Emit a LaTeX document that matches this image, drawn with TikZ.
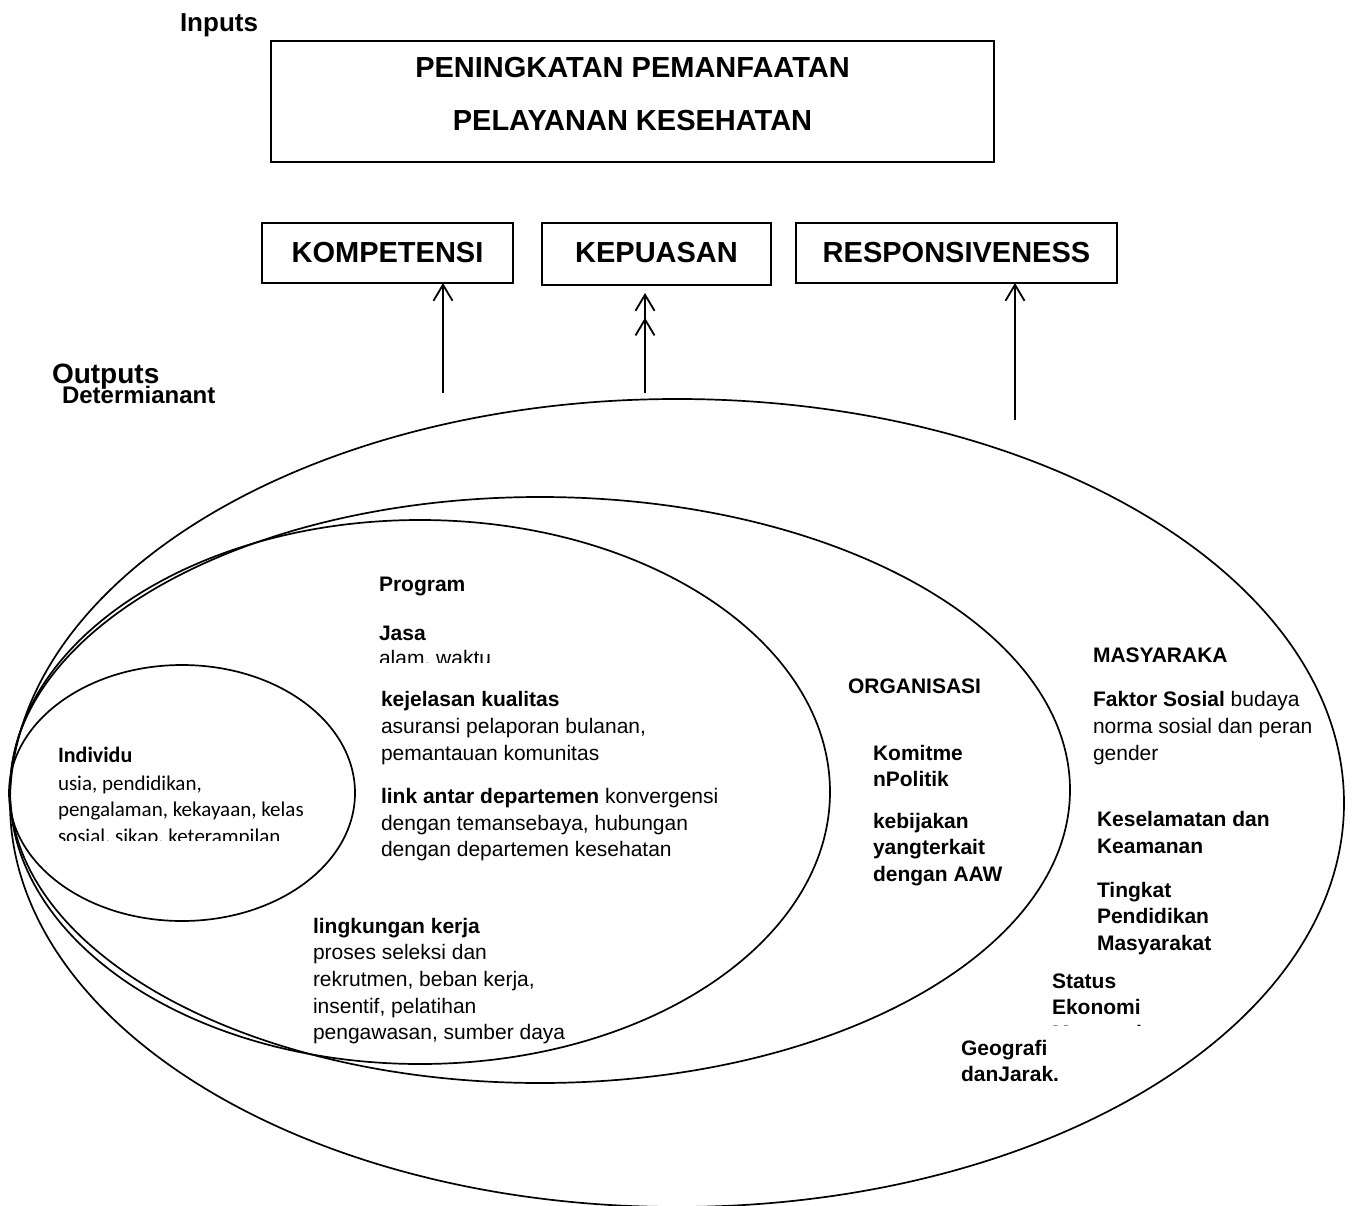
\documentclass[tikz,border=0pt]{standalone}
\usepackage{fontspec}
\setmainfont{Liberation Sans}
\newfontfamily\calfont{Carlito}
\usetikzlibrary{arrows.meta,shapes.geometric}
\begin{document}
\begin{tikzpicture}[x=1pt,y=-1pt,
  every node/.style={inner sep=0pt, outer sep=0pt},
  tx/.style={anchor=base west, align=left, font=\fontsize{21}{26.7}\selectfont},
  txb/.style={anchor=base west, align=left, font=\bfseries\fontsize{21}{26.7}\selectfont},
  cal/.style={anchor=base west, align=left, font=\calfont\fontsize{21}{26.7}\selectfont},
  box/.style={draw, line width=2.6pt},
  boxtext/.style={anchor=base, font=\bfseries\fontsize{29}{35}\selectfont},
  ring/.style={draw, ellipse, line width=1.7pt},
  arr/.style={line width=1.8pt, -{Straight Barb[length=16pt,width=19pt]}},
  arrtwo/.style={line width=1.8pt, -{Straight Barb[length=16pt,width=19pt,sep=6pt]Straight Barb[length=16pt,width=19pt]}}]
\useasboundingbox (0,0) rectangle (1357,1206);

% boxes
\node[box, minimum width=723pt, minimum height=121pt] (top) at (632.5,101.5) {};
\node[boxtext] (t1) at (632.5,78) {PENINGKATAN PEMANFAATAN};
\node[boxtext] (t2) at (632.5,131) {PELAYANAN KESEHATAN};
\node[anchor=base west, font=\bfseries\fontsize{26}{30}\selectfont] (inputs) at (180,31.7) {Inputs};

\node[box, minimum width=251pt, minimum height=60pt] (komp) at (387.5,253) {};
\node[boxtext] (kompt) at (387.5,262.5) {KOMPETENSI};
\node[box, minimum width=229pt, minimum height=62pt] (kep) at (656.5,254) {};
\node[boxtext] (kept) at (656.5,262.5) {KEPUASAN};
\node[box, minimum width=321pt, minimum height=60pt] (resp) at (956.5,253) {};
\node[boxtext] (respt) at (956.5,262.5) {RESPONSIVENESS};

% arrows
\coordinate (a1) at (443,393);
\coordinate (a2) at (645,393);
\coordinate (a3) at (1015,420);
\coordinate (k2) at (a2 |- kep.south);
\draw[arr] (a1) -- (a1 |- komp.south);
\draw[arrtwo] (a2) -- ([yshift=-8pt]k2);
\draw[arr] (a3) -- (a3 |- resp.south);

\node[anchor=base west, font=\bfseries\fontsize{28}{30}\selectfont] (outp) at (52,383) {Outputs};
\node[anchor=base west, font=\bfseries\fontsize{24}{28}\selectfont] (det) at (62,403) {Determianant};

% ellipses
\node[ring, minimum width=1334pt, minimum height=808pt] (outer) at (677,803) {};
\node[ring, minimum width=1060pt, minimum height=586pt] (org) at (540,790) {};
\node[ring, minimum width=820pt, minimum height=544pt] (prg) at (420,792) {};
\node[ring, minimum width=346pt, minimum height=256pt] (ind) at (182,793) {};

% program texts (base = last line)
\node[txb] (prog) at (379,591.7) {Program};
\node[txb] (jasa) at (379,640) {Jasa};
\begin{scope}
\clip (370,640) rectangle (700,662);
\node[tx] (alam) at (379,665) {alam, waktu};
\end{scope}
\node[tx] (kej) at (381,760.1) {\textbf{kejelasan kualitas}\\asuransi pelaporan bulanan,\\pemantauan komunitas};
\node[tx] (link) at (381,856.7) {\textbf{link antar departemen} konvergensi\\dengan temansebaya, hubungan\\dengan departemen kesehatan};
\node[tx] (ling) at (313,1039.8) {\textbf{lingkungan kerja}\\proses seleksi dan\\rekrutmen, beban kerja,\\insentif, pelatihan\\pengawasan, sumber daya};

% organisasi
\node[txb] (orgt) at (848,693) {ORGANISASI};
\node[txb] (kom) at (873,786.7) {Komitme\\nPolitik};
\node[txb] (keb) at (873,881.4) {kebijakan\\yangterkait\\dengan AAW};

% masyarakat
\node[txb] (mas) at (1093,662.7) {MASYARAKA};
\node[tx] (fak) at (1093,760.1) {\textbf{Faktor Sosial} budaya\\norma sosial dan peran\\gender};
\node[txb] (kes) at (1097,853.4) {Keselamatan dan\\Keamanan};
\node[txb] (ting) at (1097,950.4) {Tingkat\\Pendidikan\\Masyarakat};
\node[txb] (stat) at (1052,1014.7) {Status\\Ekonomi};
\begin{scope}
\clip (1040,1000) rectangle (1200,1025);
\node[txb] (statm) at (1052,1040.7) {Masyarakat};
\end{scope}
\node[txb] (geo) at (961,1081.7) {Geografi\\danJarak.};

% individu
\node[anchor=base west, font=\calfont\bfseries\fontsize{22}{26}\selectfont] (indv) at (58,762.7) {Individu};
\node[cal] (usia) at (58,816.7) {usia, pendidikan,\\pengalaman, kekayaan, kelas};
\begin{scope}
\clip (40,820) rectangle (340,840);
\node[cal] (sos) at (58,843.3) {sosial, sikap, keterampilan};
\end{scope}
\end{tikzpicture}
\end{document}
